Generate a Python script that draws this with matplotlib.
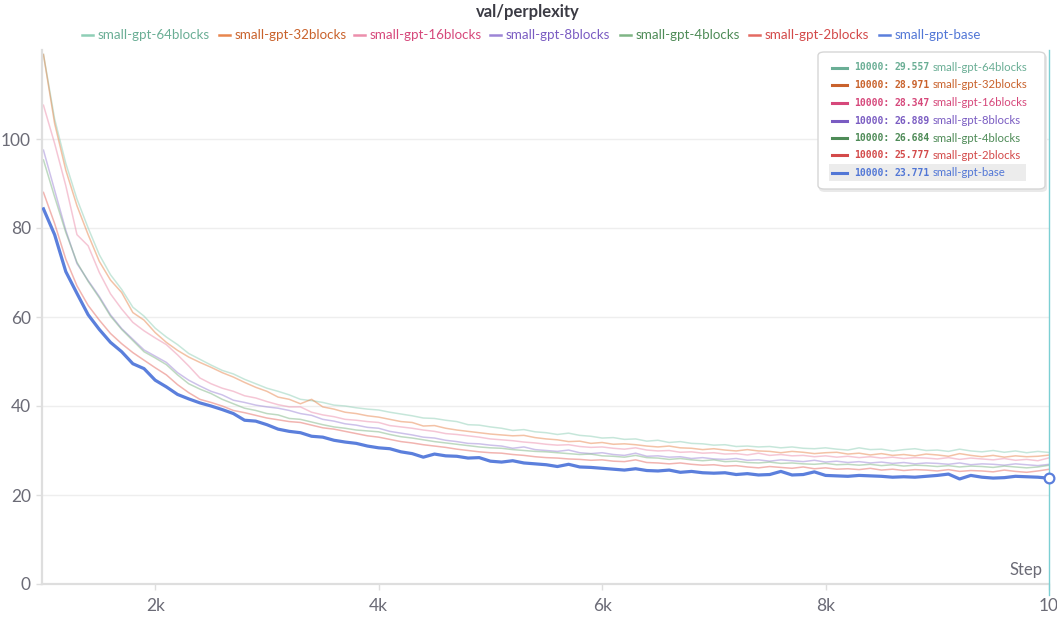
import matplotlib
matplotlib.use("Agg")
import matplotlib.pyplot as plt
from matplotlib.patches import FancyBboxPatch, Rectangle
from matplotlib.lines import Line2D

W, H = 1057, 618

steps = list(range(1000, 10001, 100))

run_names = ["small-gpt-64blocks", "small-gpt-32blocks", "small-gpt-16blocks",
             "small-gpt-8blocks", "small-gpt-4blocks", "small-gpt-2blocks", "small-gpt-base"]
final_values = ["29.557", "28.971", "28.347", "26.889", "26.684", "25.777", "23.771"]

ppl_64blocks = [
    119.0, 104.5, 94.5, 86.5, 80.0, 74.0, 69.5, 66.2, 62.2, 60.2,
    57.5, 55.5, 53.8, 51.8, 50.5, 49.2, 48.0, 47.2, 46.0, 45.0,
    44.0, 43.3, 42.5, 41.5, 41.2, 40.8, 40.2, 40.0, 39.6, 39.3,
    39.1, 38.6, 38.2, 37.8, 37.3, 37.2, 36.8, 36.5, 35.8, 35.7,
    35.3, 35.0, 34.5, 34.7, 34.2, 34.0, 33.6, 33.9, 33.4, 33.2,
    32.8, 32.9, 32.5, 32.6, 32.1, 32.3, 31.8, 32.0, 31.6, 31.5,
    31.2, 31.3, 30.9, 31.0, 30.8, 30.9, 30.6, 30.8, 30.5, 30.4,
    30.6, 30.3, 30.1, 30.6, 30.2, 30.3, 29.9, 30.2, 30.4, 30.0,
    30.1, 29.8, 30.3, 29.9, 29.7, 30.0, 29.6, 29.9, 29.5, 29.8,
    29.557]
ppl_32blocks = [
    119.0, 103.5, 93.0, 85.0, 78.5, 72.5, 68.3, 65.5, 61.0, 59.3,
    56.5, 54.3, 52.5, 51.0, 49.8, 48.7, 47.5, 46.5, 45.3, 44.2,
    43.3, 42.0, 41.5, 40.5, 41.5, 39.8, 39.3, 38.6, 38.3, 37.8,
    37.5, 37.0, 36.5, 36.3, 35.5, 35.6, 35.0, 34.6, 34.3, 34.0,
    33.7, 33.5, 33.3, 33.4, 32.9, 32.6, 32.4, 32.0, 32.1, 31.6,
    31.8, 31.4, 31.5, 31.3, 31.0, 30.8, 31.0, 30.6, 30.5, 30.2,
    30.4, 30.1, 29.9, 30.2, 29.9, 29.8, 29.5, 29.8, 29.6, 29.3,
    29.5, 29.6, 29.2, 29.4, 29.0, 29.3, 28.9, 29.1, 28.8, 29.2,
    29.0, 28.7, 29.3, 28.9, 28.6, 28.9, 28.5, 28.8, 28.6, 28.7,
    28.971]
ppl_16blocks = [
    107.6, 99.0, 89.5, 78.5, 76.0, 70.0, 65.2, 61.8, 58.8, 56.9,
    55.3, 53.8, 51.5, 49.0, 46.3, 45.0, 44.0, 43.3, 42.3, 41.8,
    41.0, 40.3, 39.8, 39.8, 38.6, 38.0, 37.6, 37.0, 36.8, 36.5,
    36.3, 35.6, 35.3, 35.0, 34.6, 34.3, 33.8, 33.6, 33.3, 33.0,
    32.6, 32.4, 32.2, 31.9, 31.7, 31.4, 31.2, 31.3, 30.9, 30.7,
    30.8, 30.5, 30.3, 30.6, 30.1, 29.9, 30.0, 29.6, 29.7, 29.4,
    29.5, 29.2, 29.3, 29.0, 29.4, 28.9, 29.1, 28.8, 28.9, 28.6,
    28.8, 28.5, 28.7, 28.4, 28.6, 28.3, 28.5, 28.2, 28.4, 28.3,
    28.1, 28.4, 28.0, 28.3, 28.1, 27.9, 28.2, 27.8, 28.0, 27.7,
    28.347]
ppl_8blocks = [
    97.5, 88.5, 79.5, 72.0, 68.2, 64.6, 60.5, 57.4, 55.0, 52.6,
    51.2, 49.8, 47.5, 45.8, 44.5, 43.3, 42.5, 41.3, 40.8, 40.2,
    39.8, 39.5, 39.0, 38.3, 37.9, 37.0, 36.6, 36.0, 35.7, 35.2,
    35.0, 34.3, 33.9, 33.5, 33.0, 32.8, 32.3, 32.0, 31.6, 31.5,
    31.2, 31.0, 30.5, 30.8, 30.2, 30.0, 29.8, 30.1, 29.5, 29.3,
    29.5, 29.1, 28.9, 29.4, 28.7, 28.8, 28.5, 28.6, 28.2, 28.4,
    28.1, 28.0, 28.2, 27.8, 27.9, 27.6, 27.9, 27.7, 27.5, 27.8,
    27.4, 27.6, 27.3, 27.5, 27.2, 27.4, 27.1, 27.3, 27.0, 27.2,
    27.1, 26.9, 27.2, 26.8, 27.0, 26.9, 26.7, 27.0, 26.8, 26.6,
    26.889]
ppl_4blocks = [
    95.3, 87.0, 79.0, 72.3, 68.0, 64.3, 60.2, 57.2, 54.7, 52.2,
    50.8, 49.3, 47.0, 45.0, 43.8, 42.8, 41.5, 40.5, 39.5, 39.0,
    38.3, 38.0, 37.2, 37.0, 36.4, 35.8, 35.3, 35.0, 34.6, 34.4,
    34.2, 33.6, 33.1, 32.8, 32.4, 32.0, 31.7, 31.4, 31.1, 30.8,
    30.6, 30.5, 30.2, 30.0, 29.8, 29.7, 29.5, 29.3, 29.1, 29.2,
    28.8, 28.7, 28.5, 28.9, 28.4, 28.3, 28.0, 28.2, 27.9, 27.7,
    27.9, 27.5, 27.6, 27.3, 27.2, 27.4, 27.1, 27.2, 27.0, 26.9,
    27.1, 26.8, 26.9, 26.7, 26.9, 26.6, 26.8, 26.5, 26.7, 26.6,
    26.4, 26.6, 26.3, 26.5, 26.4, 26.2, 26.5, 26.3, 26.1, 26.3,
    26.684]
ppl_2blocks = [
    88.0, 81.0, 73.0, 67.0, 62.6, 59.3, 56.3, 54.0, 52.0, 50.3,
    48.6, 47.0, 44.8, 43.0, 41.5, 40.8, 40.0, 39.0, 38.5, 37.9,
    37.3, 36.9, 36.5, 36.3, 35.7, 35.1, 34.8, 34.3, 33.8, 33.3,
    33.0, 32.5, 32.0, 31.7, 31.3, 31.0, 30.7, 30.3, 30.0, 29.7,
    29.5, 29.4, 29.1, 28.9, 28.6, 28.4, 28.3, 28.1, 28.0, 27.8,
    27.9, 27.6, 27.5, 27.9, 27.3, 27.2, 27.0, 27.2, 26.9, 26.7,
    26.8, 26.5, 26.6, 26.3, 26.1, 26.4, 26.2, 26.0, 26.3, 25.9,
    26.1, 25.8, 25.9, 25.7, 26.0, 25.6, 25.8, 25.5, 25.7, 25.6,
    25.4, 25.7, 25.3, 25.5, 25.4, 25.2, 25.6, 25.3, 25.1, 25.4,
    25.777]
ppl_base = [
    84.3, 78.5, 70.2, 65.3, 60.5, 57.2, 54.3, 52.2, 49.5, 48.4,
    45.8, 44.3, 42.6, 41.6, 40.7, 40.0, 39.2, 38.3, 36.8, 36.6,
    35.8, 34.8, 34.3, 34.0, 33.2, 33.0, 32.3, 31.9, 31.6, 31.0,
    30.6, 30.4, 29.7, 29.3, 28.5, 29.2, 28.8, 28.7, 28.3, 28.4,
    27.6, 27.4, 27.7, 27.2, 27.0, 26.8, 26.4, 26.9, 26.3, 26.2,
    26.0, 25.8, 25.6, 25.9, 25.5, 25.4, 25.6, 25.1, 25.3, 25.0,
    24.9, 25.0, 24.6, 24.8, 24.5, 24.6, 25.3, 24.5, 24.6, 25.2,
    24.4, 24.3, 24.2, 24.4, 24.3, 24.2, 24.0, 24.1, 24.0, 24.2,
    24.4, 24.7, 23.6, 24.4, 24.0, 23.8, 23.9, 24.2, 24.1, 24.0,
    23.771]

series = [ppl_64blocks, ppl_32blocks, ppl_16blocks, ppl_8blocks,
          ppl_4blocks, ppl_2blocks, ppl_base]

line_colors = ["#8fcfb6", "#e8864e", "#ec8fac", "#9d85d6", "#7fb585", "#e46a62", "#5b7fdc"]
text_colors = ["#6aae95", "#c9622c", "#d6487b", "#7a5cc2", "#4e8b57", "#d34a4a", "#5277d6"]

yticks = [0, 20, 40, 60, 80, 100]
xticks = [2000, 4000, 6000, 8000, 10000]
xtick_labels = ["2k", "4k", "6k", "8k", "10"]

plt.rcParams['font.family'] = ['Lato', 'DejaVu Sans']

fig = plt.figure(figsize=(W / 100, H / 100), dpi=100)
fig.patch.set_facecolor("white")


def fx(x):
    return x / W


def fy(y):
    return 1 - y / H


ax_l, ax_r, ax_t, ax_b = 42, 1049, 50, 584
ax = fig.add_axes([fx(ax_l), fy(ax_b), (ax_r - ax_l) / W, (ax_b - ax_t) / H])
ax.set_xlim(987, 10000)
ax.set_ylim(0, 120)

for i in range(len(series) - 1):
    ax.plot(steps, series[i], color=line_colors[i], lw=1.1, alpha=0.5, zorder=2)
ax.plot(steps, ppl_base, color=line_colors[-1], lw=2.3, zorder=3, solid_joinstyle="round")

# hover line and end marker
ax.axvline(10000, color="#7ccfd3", lw=1.0, zorder=4, clip_on=False, ymin=-0.02, ymax=1.0)
ax.plot([steps[-1]], [ppl_base[-1]], marker="o", ms=7, mfc="white", mec=line_colors[-1],
        mew=1.6, clip_on=False, zorder=5)

ax.set_yticks(yticks)
ax.set_xticks(xticks)
ax.set_xticklabels(xtick_labels)
ax.grid(axis="y", color="#eeeeee", lw=1.0)
ax.set_axisbelow(True)
for s in ["top", "right"]:
    ax.spines[s].set_visible(False)
for s in ["left", "bottom"]:
    ax.spines[s].set_color("#dedede")
    ax.spines[s].set_linewidth(1.6)
ax.tick_params(axis="both", colors="#dedede", labelcolor="#6b6b76", labelsize=12.5, length=4, width=1)
ax.tick_params(axis="y", pad=4)
ax.tick_params(axis="x", pad=6)
ax.text(0.994, 0.012, "Step", transform=ax.transAxes, ha="right", va="bottom",
        fontsize=12, color="#6b6b76")

# title
fig.text(fx(528), fy(12), "val/perplexity", ha="center", va="center", fontsize=12,
         fontweight="bold", color="#3b3b44")

# top legend
leg_marker_x = [82, 219, 354, 490, 620, 749, 879]
for i, name in enumerate(run_names):
    x0 = leg_marker_x[i]
    fig.add_artist(Line2D([fx(x0), fx(x0 + 11)], [fy(35), fy(35)], color=line_colors[i],
                          lw=1.8, transform=fig.transFigure))
    fig.text(fx(x0 + 16), fy(35), name, ha="left", va="center", fontsize=9.6,
             color=text_colors[i])

# tooltip box (with a soft shadow)
shadow = FancyBboxPatch((fx(819), fy(192)), (1046 - 818) / W, (190 - 52) / H,
                        boxstyle="round,pad=0,rounding_size=0.006", transform=fig.transFigure,
                        facecolor="#e9e9e9", edgecolor="none", zorder=9)
fig.add_artist(shadow)
box = FancyBboxPatch((fx(818), fy(189)), (1045 - 818) / W, (189 - 52) / H,
                     boxstyle="round,pad=0,rounding_size=0.006", transform=fig.transFigure,
                     facecolor="white", edgecolor="#d6d6d6", lw=1.0, zorder=10)
fig.add_artist(box)
hl = Rectangle((fx(829), fy(181)), (1026 - 829) / W, (181 - 164) / H,
               transform=fig.transFigure, facecolor="#ececec", edgecolor="none", zorder=11)
fig.add_artist(hl)
row_y = [67.5, 85, 103, 120.5, 138, 155.5, 172.5]
for i, name in enumerate(run_names):
    yy = row_y[i]
    fig.add_artist(Line2D([fx(832), fx(847)], [fy(yy), fy(yy)], color=text_colors[i], lw=2.2,
                          transform=fig.transFigure, zorder=12))
    fig.text(fx(854), fy(yy), "10000:", ha="left", va="center", fontsize=7.0,
             family="DejaVu Sans Mono", fontweight="bold", color=text_colors[i], zorder=12)
    fig.text(fx(930), fy(yy), final_values[i], ha="right", va="center", fontsize=7.0,
             family="DejaVu Sans Mono", fontweight="bold", color=text_colors[i], zorder=12)
    fig.text(fx(933), fy(yy), name, ha="left", va="center", fontsize=8.2,
             color=text_colors[i], zorder=12)

fig.savefig("out.png", dpi=100, facecolor="white")
